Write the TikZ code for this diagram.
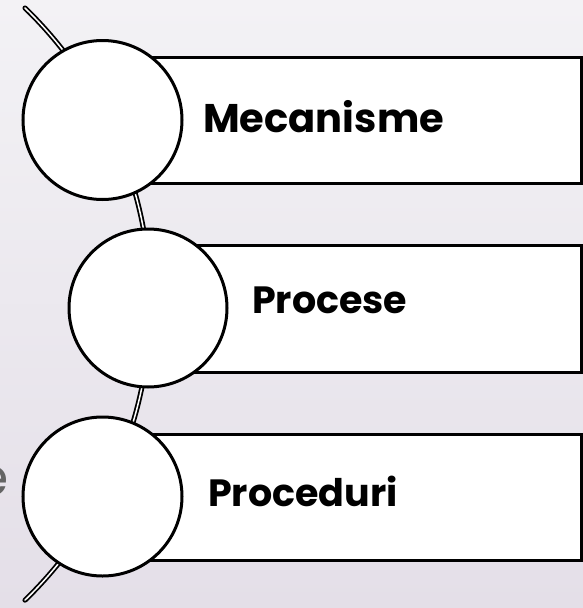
\documentclass[tikz,border=0pt]{standalone}
\usepackage{fontspec}
\setmainfont{Poppins}
\definecolor{bgtop}{RGB}{243,242,245}
\definecolor{bgbot}{RGB}{228,223,232}
\definecolor{ghost}{RGB}{100,100,100}
\begin{document}
\begin{tikzpicture}[x=1pt,y=-1pt,
  box/.style={draw=black, line width=3pt, fill=white, rectangle, inner sep=0pt, anchor=north west},
  ring/.style={draw=black, line width=3pt, fill=white, circle, inner sep=0pt},
  lbl/.style={anchor=base west, inner sep=0pt, text=black},
  spine/.style={draw=black, line width=1.8pt, double=white, double distance=1.5pt, line cap=round}]
\useasboundingbox (0,0) rectangle (583,608);
\clip (0,0) rectangle (583,608);
\shade[top color=bgtop, bottom color=bgbot] (0,0) rectangle (583,608);
% cut-off text at left
\node[anchor=base east, inner sep=0pt, text=ghost, font=\fontsize{52}{52}\selectfont] (ghostE) at (9,495) {e};
% spine arc
\coordinate (arcTop) at (25,8);
\draw[spine] (arcTop) arc[start angle=-45.9, end angle=45.9, radius=412.3];
% boxes
\node[box, minimum width=478pt, minimum height=126pt] (r1) at (102,56) {};
\node[box, minimum width=432pt, minimum height=127pt] (r2) at (148,244) {};
\node[box, minimum width=478pt, minimum height=126pt] (r3) at (102,433) {};
% circles
\node[ring, minimum size=159pt] (c1) at (102.5,120) {};
\node[ring, minimum size=158pt] (c2) at (148,308) {};
\node[ring, minimum size=159pt] (c3) at (102.5,496.5) {};
% labels
\node[lbl, font=\bfseries\fontsize{40}{40}\selectfont] (t1) at (203,132) {Mecanisme};
\node[lbl, font=\bfseries\fontsize{38}{38}\selectfont] (t2) at (252,313) {Procese};
\node[lbl, font=\bfseries\fontsize{38}{38}\selectfont] (t3) at (208,506) {Proceduri};
\end{tikzpicture}
\end{document}
